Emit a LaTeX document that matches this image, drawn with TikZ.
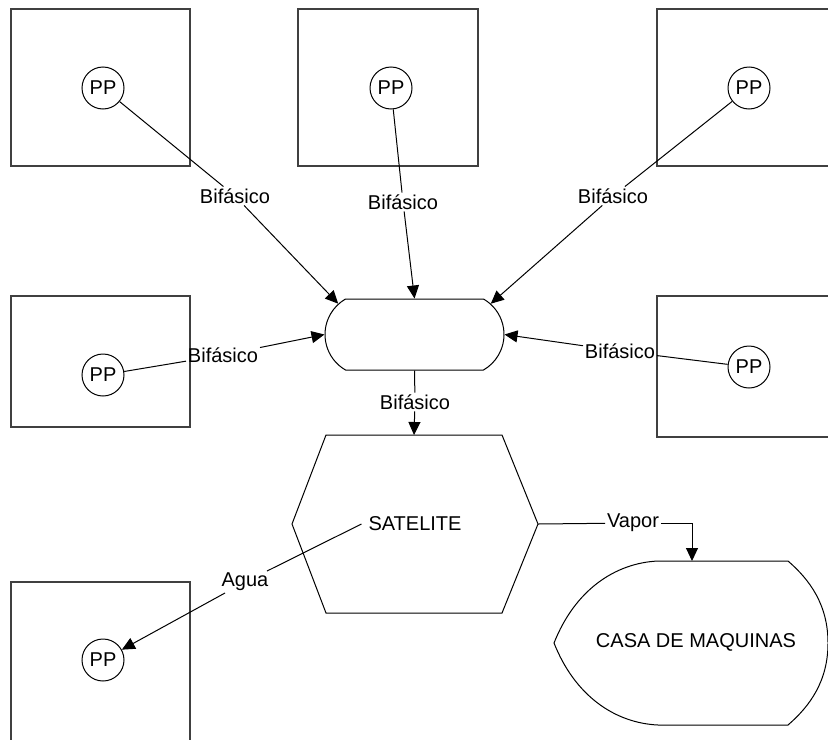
\documentclass[tikz,border=0pt]{standalone}
\usepackage{fontspec}
\setmainfont{Liberation Sans}
\usetikzlibrary{arrows.meta,shapes.misc}

\tikzset{
  pozo/.style={draw=black!75,line width=0.6pt},
  pp/.style={circle,draw,line width=0.5pt,minimum size=21pt,inner sep=0pt},
  etiq/.style={inner sep=0.8pt},
  flecha/.style={line width=0.5pt,-{Triangle[length=6.5pt,width=6pt]}},
  linea/.style={line width=0.5pt}
}

\begin{document}
\begin{tikzpicture}[x=0.5pt,y=-0.5pt]
			\useasboundingbox (0,0) rectangle (828,739);
			
			% pozos
			\draw[pozo] (11,9) rectangle (190,166);
			\draw[pozo] (298,9) rectangle (478,166);
			\draw[pozo] (840,9) -- (657,9) -- (657,166) -- (840,166);
			\draw[pozo] (11,296) rectangle (190,427);
			\draw[pozo] (840,296) -- (657,296) -- (657,437) -- (840,437);
			\draw[pozo] (11,750) -- (11,582) -- (190,582) -- (190,750);
			
			\node[pp] (ppA) at (103,88) {PP};
			\node[pp] (ppB) at (391,88) {PP};
			\node[pp] (ppC) at (749,88) {PP};
			\node[pp] (ppD) at (103,375) {PP};
			\node[pp] (ppE) at (749,367) {PP};
			\node[pp] (ppG) at (103,660) {PP};
			
			% colector
			\node[rounded rectangle,rounded rectangle arc length=120,draw,line width=0.5pt,
			  minimum width=89.5pt,minimum height=35.5pt,inner sep=0pt] (pill) at (414.5,334.5) {};
			
			% satelite
			\draw[linea] (326,435) -- (502,435) -- (538,524) -- (502,613) -- (326,613) -- (292,524) -- cycle;
			\coordinate (hexN) at (414,435);
			\coordinate (hexE) at (538,524);
			\node (sat) at (415,524) {SATELITE};
			
			% casa de maquinas
			\draw[linea] (658,561) -- (788,561) .. controls (810,580) and (828,605) .. (828,643)
			  .. controls (828,681) and (810,706) .. (788,725) -- (658,725)
			  .. controls (615,723) and (575,696) .. (554,643)
			  .. controls (575,590) and (615,563) .. (658,561) -- cycle;
			\coordinate (casaN) at (692,561);
			\node (casa) at (696,642) {CASA DE MAQUINAS};
			
			% etiquetas
			\node[etiq] (bA) at (235,196) {Bifásico};
			\node[etiq] (bB) at (403,202) {Bifásico};
			\node[etiq] (bC) at (613,196) {Bifásico};
			\node[etiq] (bD) at (223,355) {Bifásico};
			\node[etiq] (bE) at (620,351) {Bifásico};
			\node[etiq] (bF) at (415,402) {Bifásico};
			\node[etiq] (agua) at (245,582) {Agua};
			\node[etiq] (vapor) at (633,523) {Vapor};
			
			% conexiones
			\draw[linea] (ppA) -- (bA);
			\draw[flecha] (bA) -- (pill.158);
			\draw[linea] (ppB) -- (bB);
			\draw[flecha] (bB) -- (pill.north);
			\draw[linea] (ppC) -- (bC);
			\draw[flecha] (bC) -- (pill.22);
			\draw[linea] (ppD) -- (bD);
			\draw[flecha] (bD) -- (pill.west);
			\draw[linea] (ppE) -- (bE);
			\draw[flecha] (bE) -- (pill.east);
			\draw[linea] (pill.south) -- (bF);
			\draw[flecha] (bF) -- (hexN);
			\draw[linea] (sat.west) -- (agua);
			\draw[flecha] (agua) -- (ppG);
			\draw[linea] (hexE) -- (vapor);
			\draw[flecha] (vapor) -| (casaN);
		\end{tikzpicture}
\end{document}
